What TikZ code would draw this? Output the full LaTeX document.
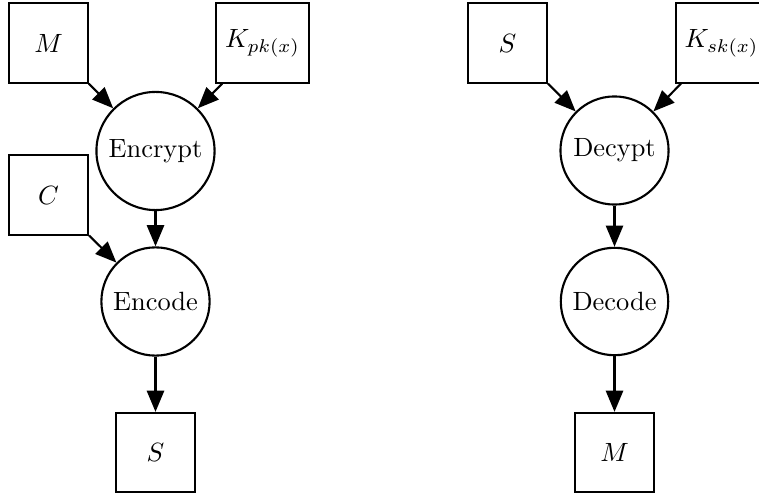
\documentclass[tikz,border=0pt]{standalone}
\usetikzlibrary{arrows.meta}
\begin{document}
\begin{tikzpicture}[x=0.3788pt,y=-0.3788pt,
  box/.style={draw,thick,rectangle,minimum size=30pt},
  proc/.style={draw,thick,circle},
  arr/.style={thick,-{Triangle[length=8pt,width=6.5pt]}}]
\useasboundingbox (0,0) rectangle (759,496);
% left
\node[box] (m1) at (48.5,43) {$M$};
\node[box] (kpk) at (262.5,43) {$K_{pk(x)}$};
\node[proc] (enc) at (155.5,151) {Encrypt};
\node[box] (c) at (48.5,195) {$C$};
\node[proc] (ecd) at (155.5,301.5) {Encode};
\node[box] (s1) at (155.5,452.5) {$S$};
\draw[arr] (m1) -- (enc);
\draw[arr] (kpk) -- (enc);
\draw[arr] (enc) -- (ecd);
\draw[arr] (c) -- (ecd);
\draw[arr] (ecd) -- (s1);
% right
\node[box] (s2) at (507.5,43) {$S$};
\node[box] (ksk) at (721.5,43) {$K_{sk(x)}$};
\node[proc] (dec) at (614.5,150.5) {Decypt};
\node[proc] (dcd) at (614.5,301.5) {Decode};
\node[box] (m2) at (614.5,452.5) {$M$};
\draw[arr] (s2) -- (dec);
\draw[arr] (ksk) -- (dec);
\draw[arr] (dec) -- (dcd);
\draw[arr] (dcd) -- (m2);
\end{tikzpicture}
\end{document}
